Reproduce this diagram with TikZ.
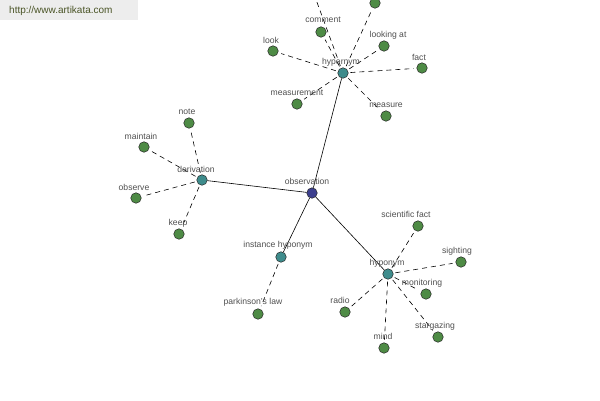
\documentclass[tikz,border=0pt]{standalone}
\usepackage{fontspec}
\setmainfont{Liberation Sans}
\definecolor{leafc}{HTML}{4E8B45}
\definecolor{hubc}{HTML}{3E8C8C}
\definecolor{rootc}{HTML}{3C3F8E}
\definecolor{lblc}{HTML}{505050}
\definecolor{urlc}{HTML}{4A5426}
\begin{document}
\begin{tikzpicture}[x=1pt,y=-1pt,
  dot/.style={circle, draw=black!85, line width=0.5pt, minimum size=10.5pt, inner sep=0pt},
  leaf/.style={dot, fill=leafc},
  hub/.style={dot, fill=hubc},
  root/.style={dot, fill=rootc},
  lbl/.style={font=\fontsize{8.6}{10}\selectfont, text=lblc, inner sep=0pt},
  solidedge/.style={draw=black, line width=0.6pt},
  dashedge/.style={draw=black, line width=0.6pt, dash pattern=on 5pt off 4pt, shorten <=2pt, shorten >=3pt}]
\useasboundingbox (0,0) rectangle (600,400);
\clip (0,0) rectangle (600,400);
\fill[white] (0,0) rectangle (600,400);
% header
\node[fill=black!7, draw=none, minimum width=138pt, minimum height=20pt, anchor=north west, inner sep=0pt] (hdr) at (0,0) {};
\node[font=\fontsize{10}{11}\selectfont, text=urlc, anchor=west, inner sep=0pt] (url) at (9,11) {http://www.artikata.com};
% nodes
\node[root] (obs) at (312,193) {};
\node[hub] (hyper) at (343,73) {};
\node[hub] (deriv) at (202,180) {};
\node[hub] (inst) at (281,257) {};
\node[hub] (hypo) at (388,274) {};
% hypernym leaves
\node[leaf] (comment) at (321,32) {};
\node[leaf] (topn) at (375,3) {};
\node[leaf] (offn) at (311,-14) {};
\node[leaf] (looking) at (384,46) {};
\node[leaf] (look) at (273,51) {};
\node[leaf] (fact) at (422,68) {};
\node[leaf] (measurement) at (297,104) {};
\node[leaf] (measure) at (386,116) {};
% derivation leaves
\node[leaf] (note) at (189,123) {};
\node[leaf] (maintain) at (144,147) {};
\node[leaf] (observe) at (136,198) {};
\node[leaf] (keep) at (179,234) {};
% instance hyponym leaf
\node[leaf] (parkinson) at (258,314) {};
% hyponym leaves
\node[leaf] (scifact) at (418,226) {};
\node[leaf] (sighting) at (461,262) {};
\node[leaf] (monitoring) at (426,294) {};
\node[leaf] (radio) at (345,312) {};
\node[leaf] (mind) at (384,348) {};
\node[leaf] (stargazing) at (438,337) {};
% edges
\draw[solidedge] (obs) -- (hyper);
\draw[solidedge] (obs) -- (deriv);
\draw[solidedge] (obs) -- (inst);
\draw[solidedge] (obs) -- (hypo);
\foreach \t in {comment,topn,offn,looking,look,fact,measurement,measure}
  \draw[dashedge] (hyper) -- (\t);
\foreach \t in {note,maintain,observe,keep}
  \draw[dashedge] (deriv) -- (\t);
\draw[dashedge] (inst) -- (parkinson);
\foreach \t in {scifact,sighting,monitoring,radio,mind,stargazing}
  \draw[dashedge] (hypo) -- (\t);
% labels
\node[lbl] (l-obs) at (307,181) {observation};
\node[lbl] (l-hyper) at (341,62) {hypernym};
\node[lbl] (l-deriv) at (196,169) {derivation};
\node[lbl] (l-inst) at (278,245) {instance hyponym};
\node[lbl] (l-hypo) at (387,263) {hyponym};
\node[lbl] (l-comment) at (323,20) {comment};
\node[lbl] (l-looking) at (388,35) {looking at};
\node[lbl] (l-look) at (271,40) {look};
\node[lbl] (l-fact) at (419,57) {fact};
\node[lbl] (l-measurement) at (297,93) {measurement};
\node[lbl] (l-measure) at (386,105) {measure};
\node[lbl] (l-note) at (187,112) {note};
\node[lbl] (l-maintain) at (141,136) {maintain};
\node[lbl] (l-observe) at (134,187) {observe};
\node[lbl] (l-keep) at (178,223) {keep};
\node[lbl] (l-parkinson) at (253,302) {parkinson's law};
\node[lbl] (l-scifact) at (406,214) {scientific fact};
\node[lbl] (l-sighting) at (457,251) {sighting};
\node[lbl] (l-monitoring) at (422,283) {monitoring};
\node[lbl] (l-radio) at (340,300) {radio};
\node[lbl] (l-mind) at (383,336) {mind};
\node[lbl] (l-stargazing) at (435,326) {stargazing};
\end{tikzpicture}
\end{document}
